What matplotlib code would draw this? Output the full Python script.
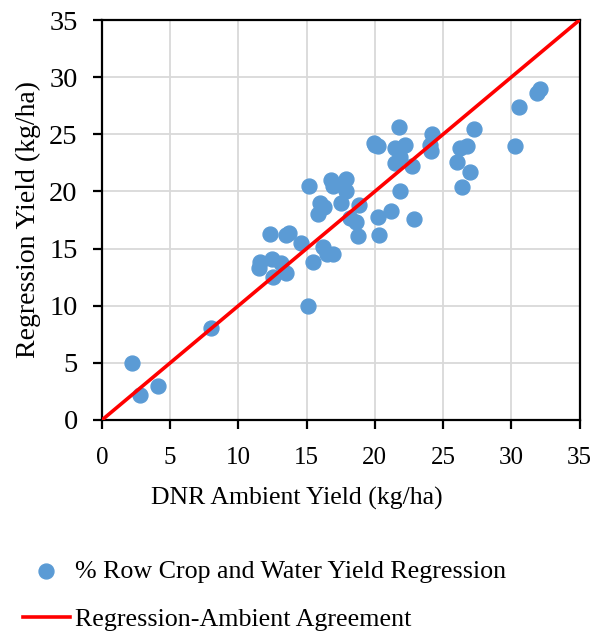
import matplotlib.pyplot as plt

plt.rcParams["font.family"] = ["Liberation Serif", "DejaVu Serif"]

# DNR ambient yield vs regression yield (kg/ha)
ambient = [2.2, 2.8, 4.1, 8.0, 11.5, 11.6, 12.3, 12.45, 12.5, 13.15,
           13.5, 13.5, 13.7, 14.6, 15.1, 15.15, 15.5, 15.8, 16.0, 16.2,
           16.3, 16.5, 16.9, 16.75, 16.95, 17.55, 17.9, 17.9, 18.2, 18.6,
           18.8, 18.85, 20.2, 20.3, 21.2, 21.85, 22.9, 19.9, 20.25, 20.0,
           21.75, 21.45, 22.2, 21.85, 21.45, 22.7, 24.2, 24.05, 24.1, 26.0,
           26.25, 26.75, 27.0, 26.4, 27.25, 30.25, 30.55, 31.9, 32.1]
regression = [5.0, 2.2, 3.0, 8.05, 13.3, 13.85, 16.25, 14.05, 12.5, 13.7,
              12.85, 16.2, 16.35, 15.45, 10.0, 20.5, 13.85, 18.05, 19.0, 15.1,
              18.65, 14.5, 14.5, 21.0, 20.45, 18.95, 21.1, 20.05, 17.65, 17.3,
              16.1, 18.8, 17.8, 16.2, 18.3, 20.0, 17.6, 24.2, 23.95, 24.1,
              25.65, 23.8, 24.05, 23.05, 22.5, 22.25, 25.0, 24.05, 23.5, 22.6,
              23.8, 24.0, 21.7, 20.4, 25.5, 24.0, 27.4, 28.65, 29.0]

# 1:1 agreement line
agree_x = [0, 35]
agree_y = [0, 35]

fig = plt.figure(figsize=(5.95, 6.33), dpi=100)
ax = fig.add_axes([0.1714, 0.3365, 0.8026, 0.6319])

ax.scatter(ambient, regression, s=115, color="#5b9bd5", zorder=3,
           label="% Row Crop and Water Yield Regression")
ax.plot(agree_x, agree_y, color="#ff0000", lw=2.6, zorder=4,
        label="Regression-Ambient Agreement")

ax.set_xlim(0, 35)
ax.set_ylim(0, 35)
ax.set_xticks(range(0, 36, 5))
ax.set_yticks(range(0, 36, 5))
ax.grid(True, color="#d9d9d9", lw=1.3)
ax.set_axisbelow(True)
for s in ax.spines.values():
    s.set_linewidth(1.6)
    s.set_color("black")
ax.tick_params(length=6.5, width=1.6, direction="out")
ax.tick_params(axis="x", labelsize=18, pad=13)
ax.tick_params(axis="y", labelsize=20.5, pad=11)

ax.set_xlabel("DNR Ambient Yield (kg/ha)", fontsize=18.5)
ax.set_ylabel("Regression Yield (kg/ha)", fontsize=20)
ax.xaxis.set_label_coords(0.409, -0.168)
ax.yaxis.set_label_coords(-0.128, 0.5)

fig.legend(loc="upper left", bbox_to_anchor=(0.021, 0.132), frameon=False,
           fontsize=18.7, handlelength=1.8, handletextpad=0.2,
           labelspacing=0.95, borderaxespad=0)

fig.savefig("out.png", dpi=100)
